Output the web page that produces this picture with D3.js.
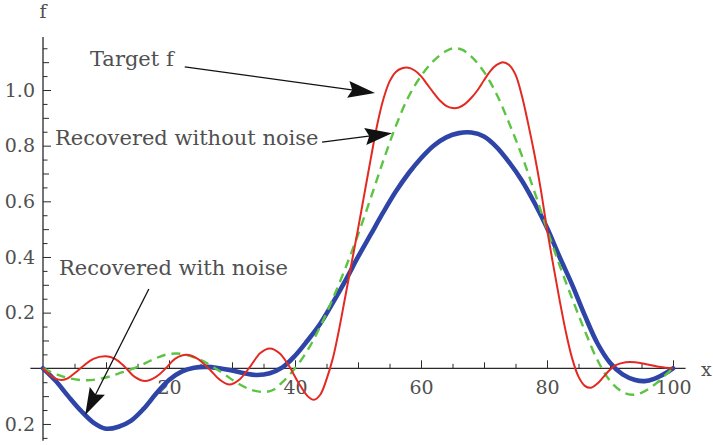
<!DOCTYPE html>
<html>
<head>
<meta charset="utf-8">
<script src="https://cdn.jsdelivr.net/npm/d3@7"></script>
<style>
  html, body { margin: 0; padding: 0; background: #fff; }
  svg { display: block; }
  text { font-family: "DejaVu Serif", serif; fill: #505050; }
</style>
</head>
<body>
<svg id="chart" width="713" height="445"></svg>
<script>
// Target function and the two recoveries, sampled as [x, f] pairs
const targetF = [
  [0,0],[1,-0.022],[2,-0.037],[3,-0.042],[4,-0.035],[5,-0.018],[6.5,0.01],[8,0.034],[10,0.043],
  [11.5,0.033],[13,0.005],[14.5,-0.03],[16.2,-0.046],[18,-0.03],[19.5,0.0],[21,0.035],[22.8,0.049],
  [24.5,0.035],[26.5,-0.005],[28,-0.04],[29.6,-0.058],[31.2,-0.04],[33,0.01],[34.5,0.055],[36,0.071],
  [37.5,0.055],[39,0.01],[40.5,-0.05],[42,-0.1],[43,-0.113],[44,-0.095],[45,-0.04],[46,0.035],
  [47,0.14],[48,0.26],[49,0.38],[50,0.5],[51,0.625],[52,0.75],[53,0.87],[54,0.965],[55,1.03],
  [56,1.065],[57,1.078],[58,1.08],[59,1.07],[60,1.05],[61,1.02],[62,0.99],[63,0.962],[64,0.943],
  [65,0.935],[66,0.937],[67,0.95],[68,0.972],[69,1.0],[70,1.035],[71,1.068],[72,1.09],[73,1.1],
  [74,1.09],[75,1.055],[76,0.98],[77,0.88],[78,0.77],[79,0.645],[80,0.5],[81,0.37],[82,0.245],
  [83,0.13],[84,0.035],[85,-0.03],[86,-0.063],[87,-0.07],[88,-0.055],[89,-0.03],[90,-0.005],
  [91,0.012],[92.5,0.022],[94,0.022],[96,0.014],[98,0.005],[100,0]
];
const recoveredClean = [
  [0,0],[2,-0.02],[4,-0.035],[7,-0.043],[10,-0.033],[12.5,-0.015],[15,0.005],[17.5,0.032],
  [19.5,0.049],[21.2,0.053],[23,0.047],[25,0.03],[27,0.005],[29,-0.025],[31,-0.055],[33,-0.077],
  [35,-0.085],[36.5,-0.078],[38,-0.05],[40,0.0],[42,0.065],[44,0.15],[46,0.25],[48,0.36],[50,0.48],
  [52,0.61],[54,0.745],[56,0.87],[58,0.975],[60,1.05],[62,1.105],[64,1.14],[65.2,1.15],[66.5,1.145],
  [68,1.12],[70,1.065],[72,0.985],[74,0.88],[76,0.765],[78,0.635],[80,0.5],[82,0.37],[84,0.25],
  [86,0.135],[88,0.03],[90,-0.045],[92,-0.085],[93.5,-0.095],[95,-0.088],[97,-0.06],[99,-0.02],[100,0]
];
const recoveredNoisy = [
  [0,0],[2,-0.045],[4,-0.1],[6,-0.152],[8,-0.195],[10,-0.217],[12,-0.21],[14,-0.188],[16,-0.145],
  [18,-0.09],[20,-0.042],[22,-0.012],[24,0.002],[26,0.005],[28,0.0],[30,-0.008],[32,-0.018],
  [34,-0.024],[36,-0.018],[38,0.003],[40,0.045],[42,0.1],[44,0.16],[46,0.235],[48,0.315],[50,0.4],
  [52,0.48],[54,0.56],[56,0.635],[58,0.7],[60,0.755],[62,0.8],[64,0.83],[66,0.845],[68,0.847],
  [70,0.833],[72,0.795],[74,0.74],[76,0.675],[78,0.595],[80,0.505],[82,0.4],[84,0.3],[86,0.19],
  [88,0.09],[90,0.02],[92,-0.022],[94,-0.042],[95.5,-0.046],[97,-0.038],[99,-0.015],[100,0]
];

// Axis ticks and their labels
const xMajorTicks = [20, 40, 60, 80, 100];
const xMajorLabels = ["20", "40", "60", "80", "100"];
const xMediumTicks = [10, 30, 50, 70, 90];
const xMinorTicks = d3.range(5, 101, 10);
const yMajorTicks = [-0.2, 0.2, 0.4, 0.6, 0.8, 1.0];
const yMajorLabels = ["0.2", "0.2", "0.4", "0.6", "0.8", "1.0"];
const yMediumTicks = [-0.1, 0.1, 0.3, 0.5, 0.7, 0.9, 1.1];
const yMinorTicks = [-0.25, -0.15, -0.05, 0.05, 0.15, 0.25, 0.35, 0.45, 0.55, 0.65, 0.75, 0.85, 0.95, 1.05, 1.15];

// Callouts: label text, label anchor, arrow tail and arrow tip (data units)
const callouts = [
  { text: "Target f",                label: [7.46, 1.086], from: [22.5, 1.083], to: [52.7, 0.989] },
  { text: "Recovered without noise", label: [1.9, 0.802],  from: [44.3, 0.813], to: [55.4, 0.845] },
  { text: "Recovered with noise",    label: [2.54, 0.335], from: [16.8, 0.285], to: [6.7, -0.168] }
];

const svg = d3.select("#chart");
const x = d3.scaleLinear().domain([0, 100]).range([43, 673]);
const y = d3.scaleLinear().domain([0, 1]).range([368.3, 90]);

const axisColor = "#2a2a2a";
const tickFont = 19;
const calloutFont = 21;

function styleTicks(g, withText) {
  g.select(".domain").remove();
  g.selectAll("line").attr("stroke", axisColor).attr("stroke-width", 1);
  if (withText) {
    g.selectAll("text").attr("font-size", tickFont).attr("font-family", "DejaVu Serif").attr("fill", "#505050");
  }
}

// Horizontal axis line and ticks (ticks point up into the plot)
svg.append("line")
  .attr("x1", x(-2)).attr("x2", x(102))
  .attr("y1", y(0)).attr("y2", y(0))
  .attr("stroke", axisColor).attr("stroke-width", 1.3);

[[xMinorTicks, -4.5], [xMediumTicks, -6]].forEach(([vals, size]) => {
  svg.append("g").attr("transform", `translate(0,${y(0)})`)
    .call(d3.axisBottom(x).tickValues(vals).tickSizeInner(size).tickSizeOuter(0).tickFormat(""))
    .call(g => styleTicks(g, false));
});
svg.append("g").attr("transform", `translate(0,${y(0)})`)
  .call(d3.axisBottom(x).tickValues(xMajorTicks).tickSizeInner(-8).tickSizeOuter(0).tickPadding(12)
    .tickFormat((d, i) => xMajorLabels[i]))
  .call(g => styleTicks(g, true));

// Vertical axis line and ticks (ticks point right into the plot)
svg.append("line")
  .attr("x1", x(0)).attr("x2", x(0))
  .attr("y1", y(1.19)).attr("y2", y(-0.26))
  .attr("stroke", axisColor).attr("stroke-width", 1.3);

[[yMinorTicks, -4.5], [yMediumTicks, -6]].forEach(([vals, size]) => {
  svg.append("g").attr("transform", `translate(${x(0)},0)`)
    .call(d3.axisLeft(y).tickValues(vals).tickSizeInner(size).tickSizeOuter(0).tickFormat(""))
    .call(g => styleTicks(g, false));
});
svg.append("g").attr("transform", `translate(${x(0)},0)`)
  .call(d3.axisLeft(y).tickValues(yMajorTicks).tickSizeInner(-8).tickSizeOuter(0).tickPadding(8)
    .tickFormat((d, i) => yMajorLabels[i]))
  .call(g => styleTicks(g, true));

// Axis names
svg.append("text").attr("x", x(0)).attr("y", 18).attr("text-anchor", "middle")
  .attr("font-size", tickFont).text("f");
svg.append("text").attr("x", 701).attr("y", 376).attr("font-size", tickFont).text("x");

// Curves
const line = d3.line().x(d => x(d[0])).y(d => y(d[1])).curve(d3.curveCatmullRom.alpha(0.5));

svg.append("path").datum(recoveredNoisy).attr("d", line)
  .attr("fill", "none").attr("stroke", "#2e44a6").attr("stroke-width", 4.6)
  .attr("stroke-linejoin", "round").attr("stroke-linecap", "round");

svg.append("path").datum(recoveredClean).attr("d", line)
  .attr("fill", "none").attr("stroke", "#5cc443").attr("stroke-width", 2.4)
  .attr("stroke-dasharray", "9,6");

svg.append("path").datum(targetF).attr("d", line)
  .attr("fill", "none").attr("stroke", "#e32a22").attr("stroke-width", 2);

// Callout labels with arrows
const headLen = 27, headHalf = 8.5;
callouts.forEach(c => {
  svg.append("text").attr("x", x(c.label[0])).attr("y", y(c.label[1]))
    .attr("font-size", calloutFont).text(c.text);

  const x0 = x(c.from[0]), y0 = y(c.from[1]);
  const x1 = x(c.to[0]), y1 = y(c.to[1]);
  const ang = Math.atan2(y1 - y0, x1 - x0);
  const bx = x1 - headLen * 0.8 * Math.cos(ang), by = y1 - headLen * 0.8 * Math.sin(ang);
  svg.append("line").attr("x1", x0).attr("y1", y0).attr("x2", bx).attr("y2", by)
    .attr("stroke", "#111").attr("stroke-width", 1.3);

  svg.append("g").attr("transform", `translate(${x1},${y1}) rotate(${ang * 180 / Math.PI})`)
    .append("path")
    .attr("d", `M0,0 L${-headLen},${-headHalf} L${-headLen * 0.85},0 L${-headLen},${headHalf} Z`)
    .attr("fill", "#111");
});
</script>
</body>
</html>
